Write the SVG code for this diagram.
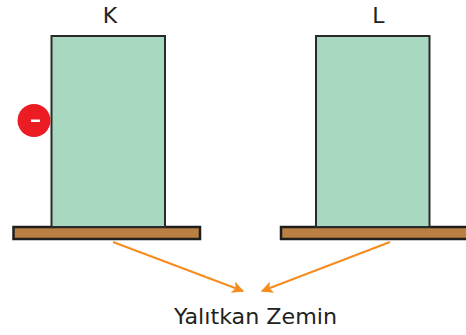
<svg xmlns="http://www.w3.org/2000/svg" width="466" height="335" viewBox="0 0 466 335">
<style>
.blk{fill:#A8D8C0;stroke:#2a2a2a;stroke-width:2}
.base{fill:#B97F43;stroke:#1e1e1e;stroke-width:2.5}
.lbl{font-family:"Comic Sans MS","DejaVu Sans",sans-serif;fill:#222;}
.arr{stroke:#F68B1F;stroke-width:2;fill:none;marker-end:url(#ah)}
</style>
<defs>
<marker id="ah" viewBox="0 0 10 10" refX="9" refY="5" markerWidth="6" markerHeight="6" markerUnits="strokeWidth" orient="auto">
<path d="M0,0 L10,5 L0,10 L2.5,5 Z" fill="#F68B1F"/>
</marker>
</defs>
<rect width="466" height="335" fill="#fff"/>
<g id="K">
<rect class="base" x="13.5" y="227" width="186.5" height="12"/>
<rect class="blk" x="51.5" y="36" width="113.5" height="191"/>
<text class="lbl" x="110" y="23" font-size="22" text-anchor="middle">K</text>
</g>
<g id="L">
<rect class="base" x="281" y="227" width="190" height="12"/>
<rect class="blk" x="316" y="36" width="113.5" height="191"/>
<text class="lbl" x="378.5" y="23" font-size="22" text-anchor="middle">L</text>
</g>
<g id="charge">
<circle cx="34" cy="120.5" r="16.5" fill="#EC1C24"/>
<rect x="31" y="119.5" width="9" height="2.5" fill="#fff"/>
</g>
<g id="connectors">
<line class="arr" x1="113" y1="242" x2="243" y2="291"/>
<line class="arr" x1="390" y1="242" x2="262" y2="291"/>
</g>
<g id="zemin">
<text class="lbl" x="174" y="324" font-size="22" textLength="163" lengthAdjust="spacingAndGlyphs">Yalıtkan Zemin</text>
</g>
</svg>
